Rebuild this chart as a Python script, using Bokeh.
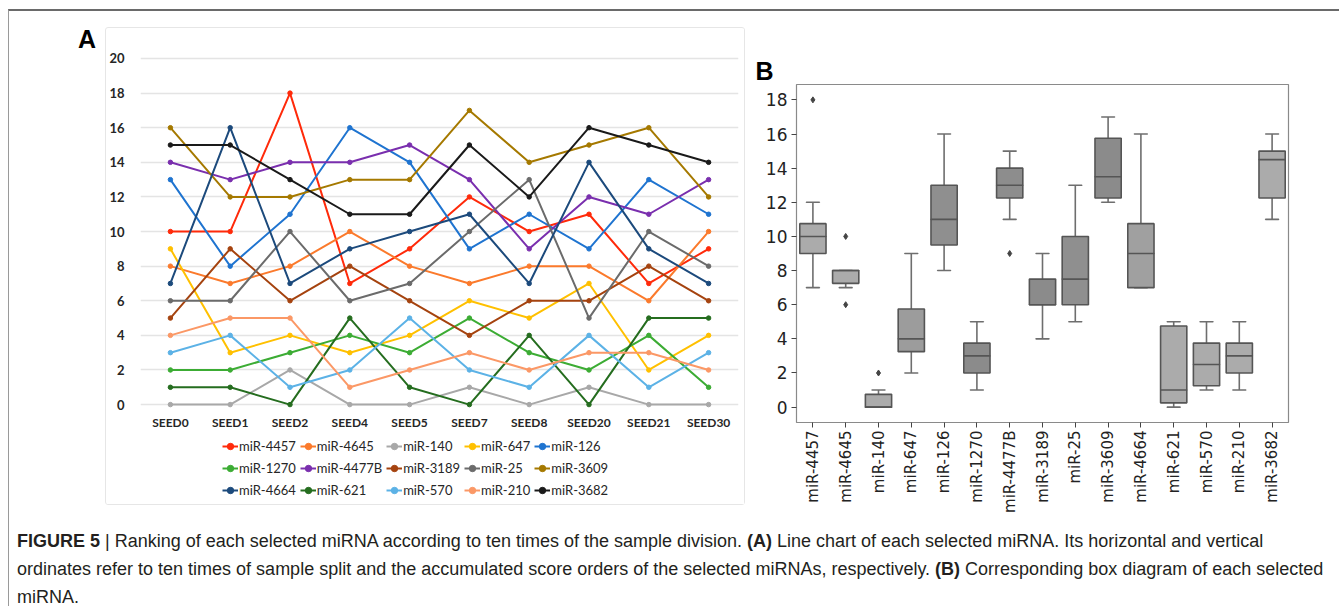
import numpy as np
from bokeh.plotting import figure
from bokeh.layouts import row, column
from bokeh.models import (Div, FactorRange, Range1d, Legend, LegendItem,
                          FixedTicker, ColumnDataSource)
from bokeh.core.properties import value
from bokeh.embed import file_html
from bokeh.resources import INLINE

# ---------------- data ----------------
seeds = ["SEED0", "SEED1", "SEED2", "SEED4", "SEED5", "SEED7", "SEED8", "SEED20", "SEED21", "SEED30"]
mirnas = ["miR-4457", "miR-4645", "miR-140", "miR-647", "miR-126",
          "miR-1270", "miR-4477B", "miR-3189", "miR-25", "miR-3609",
          "miR-4664", "miR-621", "miR-570", "miR-210", "miR-3682"]

mir_4457 = [10, 10, 18, 7, 9, 12, 10, 11, 7, 9]
mir_4645 = [8, 7, 8, 10, 8, 7, 8, 8, 6, 10]
mir_140 = [0, 0, 2, 0, 0, 1, 0, 1, 0, 0]
mir_647 = [9, 3, 4, 3, 4, 6, 5, 7, 2, 4]
mir_126 = [13, 8, 11, 16, 14, 9, 11, 9, 13, 11]
mir_1270 = [2, 2, 3, 4, 3, 5, 3, 2, 4, 1]
mir_4477b = [14, 13, 14, 14, 15, 13, 9, 12, 11, 13]
mir_3189 = [5, 9, 6, 8, 6, 4, 6, 6, 8, 6]
mir_25 = [6, 6, 10, 6, 7, 10, 13, 5, 10, 8]
mir_3609 = [16, 12, 12, 13, 13, 17, 14, 15, 16, 12]
mir_4664 = [7, 16, 7, 9, 10, 11, 7, 14, 9, 7]
mir_621 = [1, 1, 0, 5, 1, 0, 4, 0, 5, 5]
mir_570 = [3, 4, 1, 2, 5, 2, 1, 4, 1, 3]
mir_210 = [4, 5, 5, 1, 2, 3, 2, 3, 3, 2]
mir_3682 = [15, 15, 13, 11, 11, 15, 12, 16, 15, 14]

series = [mir_4457, mir_4645, mir_140, mir_647, mir_126, mir_1270, mir_4477b, mir_3189,
          mir_25, mir_3609, mir_4664, mir_621, mir_570, mir_210, mir_3682]

line_colors = ["#ff2a0a", "#fb7a2c", "#a8a8a8", "#ffc000", "#1f74d0",
               "#3cac34", "#7a2fae", "#a5430f", "#6b6b6b", "#a57900",
               "#1c4a7c", "#256d1f", "#5cb2e6", "#fb9866", "#1a1a1a"]

box_colors = ["#ababab", "#ababab", "#ababab", "#9c9c9c", "#8f8f8f",
              "#8b8b8b", "#8d8d8d", "#8b8b8b", "#8f8f8f", "#8b8b8b",
              "#a0a0a0", "#ababab", "#ababab", "#ababab", "#ababab"]

y_ticks_a = list(range(0, 21, 2))
y_ticks_b = list(range(0, 19, 2))

EXCEL_FONT = "Lato"
MPL_FONT = "DejaVu Sans"

# ---------------- panel A ----------------
pA = figure(width=640, height=478, x_range=FactorRange(*seeds), y_range=Range1d(-5.6, 20.52),
            output_backend="svg", toolbar_location=None, frame_align=False,
            x_axis_location=None,
            min_border_left=34, min_border_right=8, min_border_top=21, min_border_bottom=5,
            margin=(16, 0, 0, 0), border_fill_color="white", background_fill_color="white",
            styles={"border": "1px solid #e6e6e6", "border-radius": "3px"})
pA.outline_line_color = None
pA.xgrid.grid_line_color = None
pA.ygrid.ticker = FixedTicker(ticks=y_ticks_a)
pA.ygrid.grid_line_color = "#e4e4e4"
pA.ygrid.grid_line_width = 1.5
pA.yaxis.ticker = FixedTicker(ticks=y_ticks_a)
ya = pA.yaxis[0]
ya.axis_line_color = None
ya.major_tick_line_color = None
ya.minor_tick_line_color = None
ya.major_label_text_font = EXCEL_FONT
ya.major_label_text_font_style = "bold"
ya.major_label_text_font_size = "13px"
ya.major_label_text_color = "#262626"
ya.major_label_standoff = 10

# category labels of panel A (Excel style, drawn just under the zero line)
pA.text(x=seeds, y=[-1.04] * len(seeds), text=seeds, text_align="center", text_baseline="middle",
        text_font=value(EXCEL_FONT), text_font_style="bold", text_font_size="12px",
        text_color="#262626")

items = []
for name, vals, col in zip(mirnas, series, line_colors):
    src = ColumnDataSource(dict(x=seeds, y=vals))
    r1 = pA.line("x", "y", source=src, line_color=col, line_width=2)
    r2 = pA.scatter("x", "y", source=src, size=4.5, fill_color=col, line_color=col)
    items.append(LegendItem(label=name, renderers=[r1, r2]))

leg = Legend(items=items, orientation="horizontal", ncols=5, location=(82, 2),
             label_text_font=EXCEL_FONT, label_text_font_size="13px", label_text_color="#262626",
             glyph_width=16, glyph_height=18, label_height=18, label_standoff=1,
             spacing=4, padding=0, margin=0, border_line_color=None,
             background_fill_alpha=0)
pA.add_layout(leg, "center")

labelA = Div(text="A", width=96, height=60, margin=0,
             styles={"font-family": "Liberation Sans", "font-weight": "bold", "font-size": "25px",
                     "line-height": "25px", "padding-top": "16px", "padding-left": "69px",
                     "color": "#000"})

# ---------------- panel B ----------------
pB = figure(width=590, height=509, x_range=FactorRange(*mirnas), y_range=Range1d(-0.9, 18.9),
            title="B", output_backend="svg", toolbar_location=None, frame_align=False,
            border_fill_color="white", background_fill_color="white",
            min_border_left=51, min_border_right=47, min_border_top=73, min_border_bottom=98)
pB.title.align = "left"
pB.title.offset = -41
pB.title.standoff = 0
pB.title.text_font = "Liberation Sans"
pB.title.text_font_size = "25px"
pB.title.text_font_style = "bold"
pB.title.text_color = "#000000"

pB.grid.grid_line_color = None
pB.outline_line_color = "#8a8a8a"
pB.outline_line_width = 1.2
pB.yaxis.ticker = FixedTicker(ticks=y_ticks_b)
for ax in (pB.xaxis[0], pB.yaxis[0]):
    ax.axis_line_color = None
    ax.major_tick_line_color = "#444444"
    ax.major_tick_out = 5
    ax.major_tick_in = 0
    ax.minor_tick_line_color = None
    ax.major_label_text_font = MPL_FONT
    ax.major_label_text_color = "#222222"
pB.yaxis.major_label_text_font_size = "17px"
pB.yaxis.major_label_standoff = 4
pB.xaxis.major_label_text_font_size = "15px"
pB.xaxis.major_label_orientation = np.pi / 2
pB.xaxis.major_label_standoff = 3

q1s, meds, q3s, los, his = [], [], [], [], []
ox, oy = [], []
for name, vals in zip(mirnas, series):
    a = np.array(vals, dtype=float)
    q1, med, q3 = np.percentile(a, [25, 50, 75])
    iqr = q3 - q1
    lo_f, hi_f = q1 - 1.5 * iqr, q3 + 1.5 * iqr
    inside = a[(a >= lo_f) & (a <= hi_f)]
    q1s.append(q1); meds.append(med); q3s.append(q3)
    los.append(inside.min()); his.append(inside.max())
    for v in sorted(set(a[(a < lo_f) | (a > hi_f)])):
        ox.append(name); oy.append(v)

bsrc = ColumnDataSource(dict(x=mirnas, q1=q1s, med=meds, q3=q3s, lo=los, hi=his, color=box_colors))
whisk = "#6e6e6e"
pB.segment("x", "q3", "x", "hi", source=bsrc, line_color=whisk, line_width=1.6)
pB.segment("x", "lo", "x", "q1", source=bsrc, line_color=whisk, line_width=1.6)
pB.rect("x", "hi", width=0.4, height=0.0001, source=bsrc, fill_alpha=0, line_color=whisk, line_width=1.6)
pB.rect("x", "lo", width=0.4, height=0.0001, source=bsrc, fill_alpha=0, line_color=whisk, line_width=1.6)
pB.vbar(x="x", bottom="q1", top="q3", width=0.8, source=bsrc, fill_color="color",
        line_color="#555555", line_width=1.6)
pB.rect("x", "med", width=0.8, height=0.0001, source=bsrc, fill_alpha=0, line_color="#555555", line_width=1.6)
pB.scatter(ox, oy, marker="diamond", size=6, fill_color="#444444", line_color="#444444")

# ---------------- caption ----------------
cap_html = (
    "<div style=\"font-family:'Liberation Sans',sans-serif;"
    "font-size:18px;line-height:28px;color:#231f20;padding:7px 0 0 8px;white-space:nowrap\">"
    "<b>FIGURE 5</b> | Ranking of each selected miRNA according to ten times of the sample division. "
    "<b>(A)</b> Line chart of each selected miRNA. Its horizontal and vertical<br>"
    "ordinates refer to ten times of sample split and the accumulated score orders of the selected "
    "miRNAs, respectively. <b>(B)</b> Corresponding box diagram of each selected<br>"
    "miRNA.</div>"
)
caption = Div(text=cap_html, width=1330, height=86, margin=0)

root = column(row(labelA, pA, pB, spacing=0), caption, spacing=0,
              margin=(9, 0, 0, 8),
              styles={"border-top": "2px solid #6a6a6a", "border-left": "1px solid #9a9a9a",
                      "background": "white"})

open("out.html", "w").write(file_html(root, INLINE))
